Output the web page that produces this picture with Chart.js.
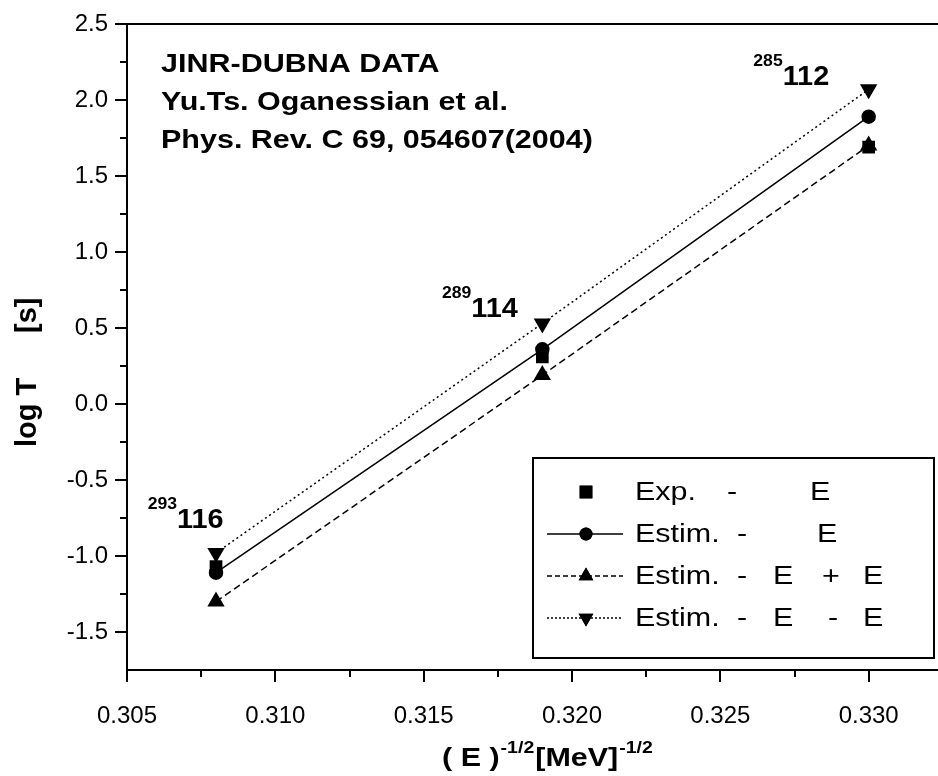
<!DOCTYPE html>
<html>
<head>
<meta charset="utf-8">
<script src="https://cdn.jsdelivr.net/npm/chart.js@4/dist/chart.umd.min.js"></script>
<style>
  html, body { margin: 0; padding: 0; background: #fff; }
  #chart { display: block; }
</style>
</head>
<body>
<canvas id="chart" width="938" height="776"></canvas>
<script>
// data
const xValues   = [0.308, 0.319, 0.330];
const expE      = [-1.07, 0.31, 1.69];
const estE      = [-1.11, 0.36, 1.89];
const estPlus   = [-1.30, 0.19, 1.70];
const estMinus  = [-0.98, 0.53, 2.07];

const xTicks = [0.305, 0.310, 0.315, 0.320, 0.325, 0.330];
const yTicks = [-1.5, -1.0, -0.5, 0.0, 0.5, 1.0, 1.5, 2.0, 2.5];
const xMinor = [0.3075, 0.3125, 0.3175, 0.3225, 0.3275];
const yMinor = [-1.25, -0.75, -0.25, 0.25, 0.75, 1.25, 1.75, 2.25];

const infoLines = ["JINR-DUBNA DATA", "Yu.Ts. Oganessian et al.", "Phys. Rev. C 69, 054607(2004)"];
const isoMass = ["293", "289", "285"];
const isoZ    = ["116", "114", "112"];
// where each isotope label sits, relative to its down-triangle point (px)
const isoOffset = [[-39, -25], [-71, -6], [-86, -4]];

const FONT = "'Liberation Sans', Arial, sans-serif";
const SX = 1.22; // the figure's text is a bit wide

function pts(ys) {
  return xValues.map((x, i) => ({ x, y: ys[i] }));
}

const datasets = [
  {
    label: "Exp.",
    data: pts(expE),
    showLine: false,
    pointStyle: "rect",
    pointRadius: 9,
    backgroundColor: "#000",
    borderColor: "#000",
    borderWidth: 0,
  },
  {
    label: "Estim. E",
    data: pts(estE),
    showLine: true,
    pointStyle: "circle",
    pointRadius: 6.5,
    backgroundColor: "#000",
    borderColor: "#000",
    borderWidth: 1.5,
  },
  {
    label: "Estim. E + E",
    data: pts(estPlus),
    showLine: true,
    borderDash: [7, 4],
    pointStyle: "triangle",
    pointRadius: 8.5,
    backgroundColor: "#000",
    borderColor: "#000",
    borderWidth: 1.5,
  },
  {
    label: "Estim. E - E",
    data: pts(estMinus),
    showLine: true,
    borderDash: [2, 3],
    pointStyle: "triangle",
    rotation: 180,
    pointRadius: 8.5,
    backgroundColor: "#000",
    borderColor: "#000",
    borderWidth: 1.5,
  },
];

// legend rows: which dataset, line dash, text pieces with x offsets
const legendRows = [
  { ds: 0, line: null,   parts: [["Exp.", 0], ["-", 92], ["E", 175]] },
  { ds: 1, line: [],     parts: [["Estim.", 0], ["-", 102], ["E", 182]] },
  { ds: 2, line: [5, 3], parts: [["Estim.", 0], ["-", 102], ["E", 138], ["+", 187], ["E", 228]] },
  { ds: 3, line: [2, 2], parts: [["Estim.", 0], ["-", 102], ["E", 138], ["-", 193], ["E", 228]] },
];

function wideText(ctx, t, x, y, sx) {
  ctx.save();
  ctx.translate(x, y);
  ctx.scale(sx, 1);
  ctx.fillText(t, 0, 0);
  ctx.restore();
  return ctx.measureText(t).width * sx;
}

const decorPlugin = {
  id: "decor",
  afterDraw(chart) {
    const { ctx, chartArea, scales } = chart;
    const xs = scales.x, ys = scales.y;
    ctx.save();
    ctx.strokeStyle = "#000";
    ctx.fillStyle = "#000";

    // top frame line, and the bottom axis carried on to the edge
    ctx.lineWidth = 2;
    ctx.beginPath();
    const top = Math.round(chartArea.top), bot = Math.round(chartArea.bottom);
    ctx.moveTo(chartArea.left, top);
    ctx.lineTo(chart.width, top);
    ctx.moveTo(chartArea.right - 2, bot);
    ctx.lineTo(chart.width, bot);
    ctx.stroke();

    // minor ticks
    ctx.beginPath();
    yMinor.forEach(v => {
      const p = Math.round(ys.getPixelForValue(v));
      ctx.moveTo(chartArea.left - 7, p);
      ctx.lineTo(chartArea.left, p);
    });
    xMinor.forEach(v => {
      const p = Math.round(xs.getPixelForValue(v));
      ctx.moveTo(p, bot);
      ctx.lineTo(p, bot + 7);
    });
    ctx.stroke();

    // info text
    ctx.font = "bold 25px " + FONT;
    ctx.textBaseline = "alphabetic";
    ctx.textAlign = "left";
    infoLines.forEach((t, i) => wideText(ctx, t, 161, 72 + i * 38, SX));

    // isotope labels
    isoZ.forEach((z, i) => {
      const px = xs.getPixelForValue(xValues[i]);
      const py = ys.getPixelForValue(estMinus[i]);
      const bx = px + isoOffset[i][0], by = py + isoOffset[i][1];
      ctx.font = "bold 16px " + FONT;
      const w = ctx.measureText(isoMass[i]).width * 1.1;
      wideText(ctx, isoMass[i], bx - w, by - 19, 1.1);
      ctx.font = "bold 28px " + FONT;
      wideText(ctx, z, bx, by, 1.03);
    });

    // y axis title
    ctx.font = "bold 29px " + FONT;
    ctx.save();
    ctx.translate(36, 447);
    ctx.rotate(-Math.PI / 2);
    ctx.fillText("log T", 0, 0);
    ctx.fillText("[s]", 114, 0);
    ctx.restore();

    // x axis title
    let tx = 442;
    const ty = 766;
    const xParts = [["( E )", 25, 0], ["-1/2", 16, -13], ["[MeV]", 25, 0], ["-1/2", 16, -13]];
    xParts.forEach(([t, size, dy]) => {
      ctx.font = "bold " + size + "px " + FONT;
      tx += wideText(ctx, t, tx, ty + dy, SX) + 1;
    });

    // legend box
    ctx.lineWidth = 2;
    ctx.strokeRect(533, 458, 401, 200);
    legendRows.forEach((row, i) => {
      const cy = 492 + i * 42;
      const ds = chart.data.datasets[row.ds];
      if (row.line) {
        ctx.save();
        ctx.lineWidth = 1.5;
        ctx.setLineDash(row.line);
        ctx.beginPath();
        ctx.moveTo(547, cy);
        ctx.lineTo(623, cy);
        ctx.stroke();
        ctx.restore();
      }
      Chart.helpers.drawPoint(ctx, {
        pointStyle: ds.pointStyle,
        radius: ds.pointRadius,
        rotation: ds.rotation || 0,
        borderWidth: 0,
      }, 586, cy);
      ctx.fill();
      ctx.font = "25px " + FONT;
      ctx.textBaseline = "middle";
      row.parts.forEach(([t, off]) => wideText(ctx, t, 635 + off, cy + 1, SX));
      ctx.textBaseline = "alphabetic";
    });

    ctx.restore();
  },
};

new Chart(document.getElementById("chart"), {
  type: "scatter",
  data: { datasets },
  options: {
    responsive: false,
    animation: false,
    devicePixelRatio: 1,
    layout: { padding: { top: 24, right: 0, left: 0, bottom: 0 } },
    plugins: { legend: { display: false }, tooltip: { enabled: false } },
    scales: {
      x: {
        type: "linear",
        min: 0.305,
        max: 0.332,
        afterBuildTicks: s => { s.ticks = xTicks.map(v => ({ value: v })); },
        afterFit: s => { s.height = 106; },
        ticks: {
          color: "#000",
          font: { family: FONT, size: 24 },
          padding: 20,
          maxRotation: 0,
          callback: v => v.toFixed(3),
        },
        grid: { drawOnChartArea: false, tickLength: 12, color: "#000", lineWidth: 2 },
        border: { display: true, color: "#000", width: 2 },
      },
      y: {
        type: "linear",
        min: -1.75,
        max: 2.5,
        afterBuildTicks: s => { s.ticks = yTicks.map(v => ({ value: v })); },
        afterFit: s => { s.width = 127; },
        ticks: {
          color: "#000",
          font: { family: FONT, size: 24 },
          padding: 7,
          callback: v => v.toFixed(1),
        },
        grid: { drawOnChartArea: false, tickLength: 12, color: "#000", lineWidth: 2 },
        border: { display: true, color: "#000", width: 2 },
      },
    },
  },
  plugins: [decorPlugin],
});
</script>
</body>
</html>
